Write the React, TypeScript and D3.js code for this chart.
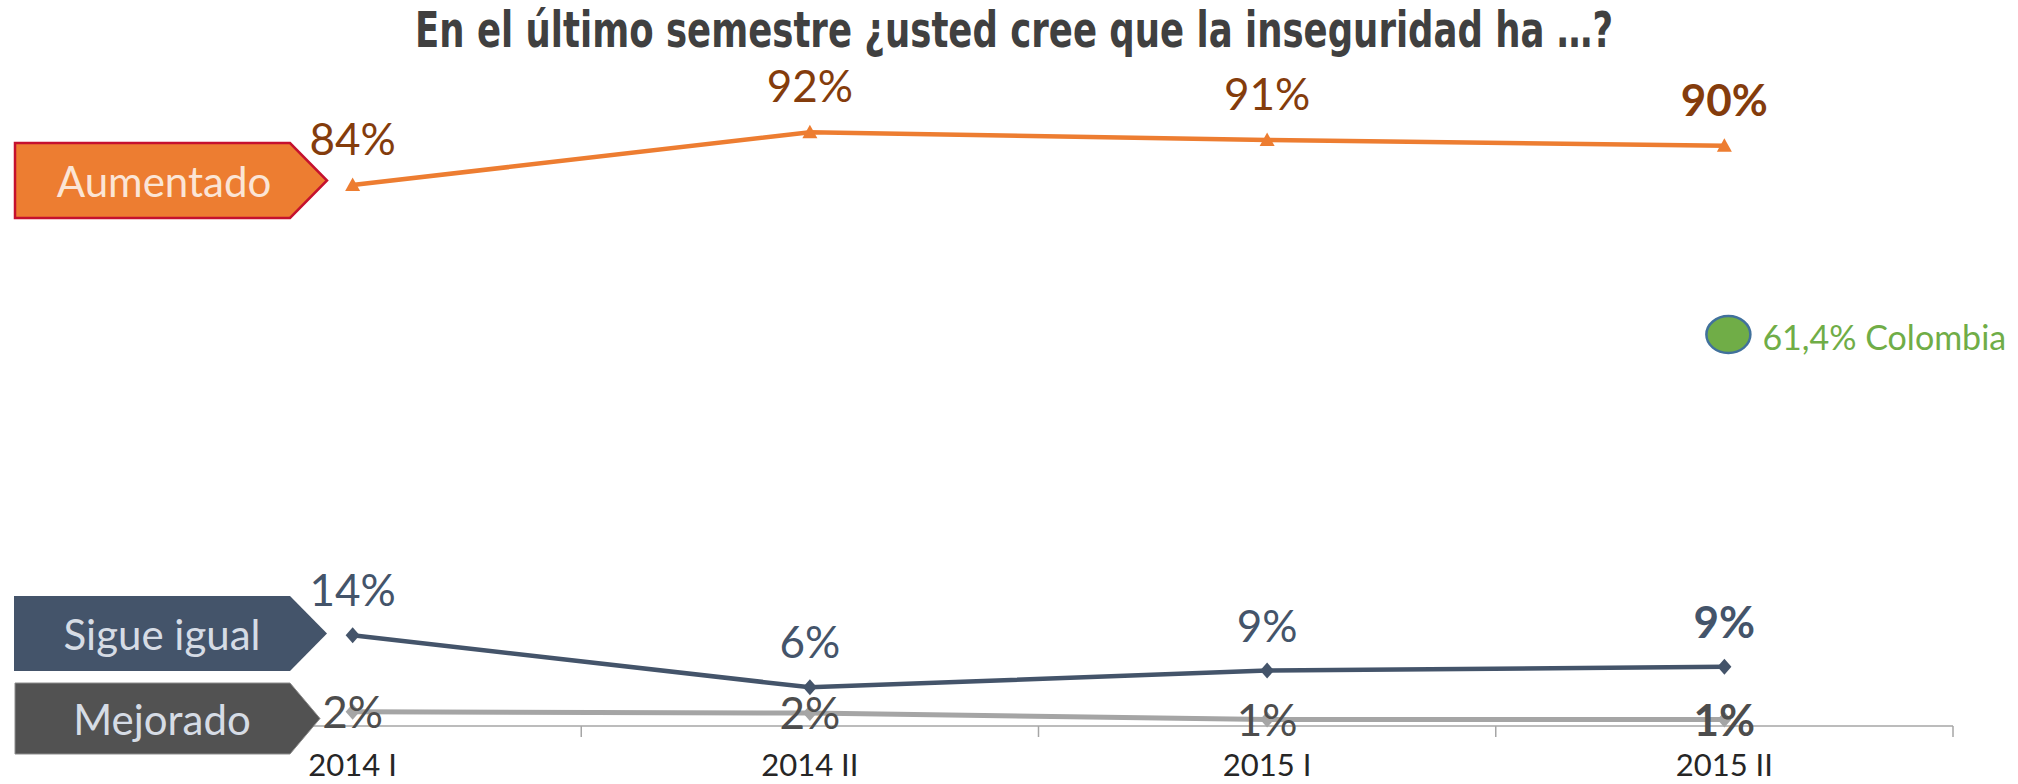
import React, { useEffect } from "react";
import * as d3 from "d3";

const categories = ["2014 I", "2014 II", "2015 I", "2015 II"];
const aumentado = [84.0, 92.2, 91.0, 90.1];
const sigueIgual = [14.1, 6.0, 8.6, 9.2];
const mejorado = [2.2, 2.0, 1.0, 1.0];
const colombiaValue = 61.4;
const colombiaLabel = "61,4% Colombia";
const title = "En el último semestre ¿usted cree que la inseguridad ha …?";

const W = 2018;
const H = 784;

const x = d3.scaleBand<string>().domain(categories).range([124, 1953]).padding(0);
const y = d3.scaleLinear().domain([0, 100]).range([726, 82]);
const cx = (c: string) => (x(c) as number) + x.bandwidth() / 2;

const lineGen = d3
  .line<number>()
  .x((_, i) => cx(categories[i]))
  .y((v) => y(v));

const tri = (px: number, py: number) =>
  `M${px},${py - 7.5}L${px + 7.5},${py + 6}L${px - 7.5},${py + 6}Z`;
const dia = (px: number, py: number) =>
  `M${px},${py - 8}L${px + 7},${py}L${px},${py + 8}L${px - 7},${py}Z`;

const boxPath = (x0: number, x1: number, tip: number, y0: number, y1: number) =>
  `M${x0},${y0}L${x1},${y0}L${tip},${(y0 + y1) / 2}L${x1},${y1}L${x0},${y1}Z`;

const sans = "Lato, 'Noto Sans', sans-serif";

export default function App() {
  useEffect(() => {
    document.body.style.margin = "0";
  }, []);
  const boundaries = [...categories.map((c) => x(c) as number), 1953];
  const last = categories.length - 1;
  return (
    <svg
      width={W}
      height={H}
      style={{ position: "absolute", left: 0, top: 0, background: "#fff" }}
    >
      <text
        x={1014}
        y={47}
        textAnchor="middle"
        fontFamily="'Liberation Sans Narrow', 'DejaVu Sans Condensed', sans-serif"
        fontWeight="bold"
        fontSize={50}
        fill="#404040"
        textLength={1198}
        lengthAdjust="spacingAndGlyphs"
      >
        {title}
      </text>

      {/* axis */}
      <line x1={124} x2={1953} y1={y(0)} y2={y(0)} stroke="#A6A6A6" strokeWidth={1.5} />
      {boundaries.map((b, i) => (
        <line key={i} x1={b} x2={b} y1={y(0)} y2={y(0) + 11} stroke="#A6A6A6" strokeWidth={1.5} />
      ))}
      {categories.map((c) => (
        <text
          key={c}
          x={cx(c)}
          y={776}
          textAnchor="middle"
          fontFamily={sans}
          fontSize={31}
          fill="#262626"
        >
          {c}
        </text>
      ))}

      {/* lines */}
      <path d={lineGen(mejorado) || ""} fill="none" stroke="#A5A5A5" strokeWidth={5} />
      {mejorado.map((v, i) => (
        <path key={i} d={dia(cx(categories[i]), y(v))} fill="#A5A5A5" />
      ))}
      <path d={lineGen(sigueIgual) || ""} fill="none" stroke="#44546A" strokeWidth={4.5} />
      {sigueIgual.map((v, i) => (
        <path key={i} d={dia(cx(categories[i]), y(v))} fill="#44546A" />
      ))}
      <path d={lineGen(aumentado) || ""} fill="none" stroke="#ED7D31" strokeWidth={4.5} />
      {aumentado.map((v, i) => (
        <path key={i} d={tri(cx(categories[i]), y(v))} fill="#ED7D31" />
      ))}

      {/* Colombia reference */}
      <ellipse
        cx={cx(categories[last]) + 4}
        cy={y(colombiaValue) + 4}
        rx={22}
        ry={18.5}
        fill="#70AD47"
        stroke="#41719C"
        strokeWidth={2.5}
      />
      <text
        x={cx(categories[last]) + 38}
        y={y(colombiaValue) + 19}
        fontFamily={sans}
        fontSize={34}
        fill="#70AD47"
      >
        {colombiaLabel}
      </text>

      {/* label boxes */}
      <path d={boxPath(15, 290, 327, 143, 218)} fill="#ED7D31" stroke="#C5112E" strokeWidth={2.5} />
      <text x={164} y={197} textAnchor="middle" fontFamily={sans} fontSize={42} fill="#FBE5D6">
        Aumentado
      </text>
      <path d={boxPath(14, 290, 327, 596, 671)} fill="#44546A" />
      <text x={162} y={650} textAnchor="middle" fontFamily={sans} fontSize={42} fill="#D6DCE5">
        Sigue igual
      </text>
      <path d={boxPath(15, 290, 320, 683, 754)} fill="#525252" stroke="#8C8C8C" strokeWidth={1} />
      <text x={162} y={735} textAnchor="middle" fontFamily={sans} fontSize={42} fill="#D6DCE5">
        Mejorado
      </text>

      {/* data labels */}
      {aumentado.map((v, i) => (
        <text
          key={i}
          x={cx(categories[i])}
          y={y(v) - 30}
          textAnchor="middle"
          fontFamily={sans}
          fontSize={44}
          fontWeight={i === last ? 700 : 400}
          fill="#843C0C"
        >
          {Math.round(v)}%
        </text>
      ))}
      {sigueIgual.map((v, i) => (
        <text
          key={i}
          x={cx(categories[i])}
          y={y(v) - 29}
          textAnchor="middle"
          fontFamily={sans}
          fontSize={44}
          fontWeight={i === last ? 700 : 400}
          fill="#44546A"
        >
          {Math.round(v)}%
        </text>
      ))}
      {mejorado.map((v, i) => (
        <text
          key={i}
          x={cx(categories[i])}
          y={y(v) + 16}
          textAnchor="middle"
          fontFamily={sans}
          fontSize={44}
          fontWeight={i === last ? 700 : 400}
          fill="#4D4D4D"
        >
          {Math.round(v)}%
        </text>
      ))}
    </svg>
  );
}
